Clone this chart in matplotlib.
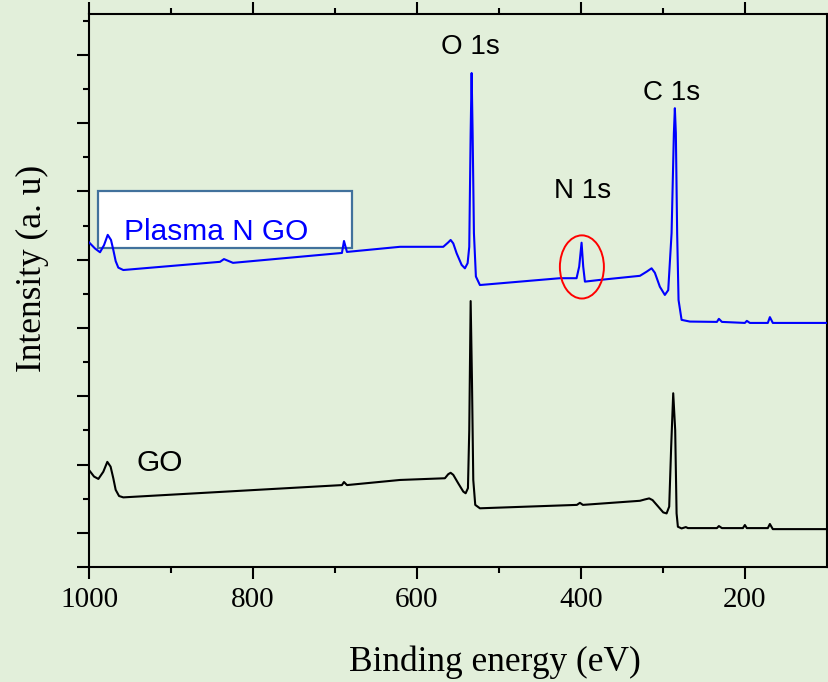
import numpy as np
import matplotlib
matplotlib.use("Agg")
import matplotlib.pyplot as plt
from matplotlib.patches import Rectangle, Ellipse
from matplotlib.ticker import FixedLocator

# Binding energy (eV) / intensity (a. u.)
be_ngo = [1000, 992.7, 986.6, 981.7, 977.2, 973.2, 970.4, 967.5, 964.3, 958.2,
          840.2, 835.4, 824.4, 691.5, 689.0, 685.4, 620.7,
          567.9, 561.8, 558.9, 555.7, 551.6, 545.5, 541.5, 538.2, 536.2, 534.5,
          533.3, 532.1, 530.5, 528.1, 523.2,
          425.6, 405.3, 402.1, 399.2, 397.2, 395.1, 376.8,
          328.0, 319.9, 313.8, 309.8, 303.7, 297.6, 293.5, 289.4, 286.6, 285.4,
          284.2, 282.6, 280.9, 277.2, 267.1,
          234.1, 231.7, 228.0, 200.0, 197.6, 193.9, 172.0, 169.5, 165.9, 99.0]
i_ngo = [9.51, 9.33, 9.22, 9.43, 9.73, 9.58, 9.29, 8.96, 8.77, 8.70,
         8.94, 9.02, 8.91, 9.20, 9.55, 9.23, 9.38,
         9.38, 9.51, 9.58, 9.48, 9.19, 8.85, 8.75, 8.90, 9.38, 12.71,
         14.47, 12.71, 9.78, 8.51, 8.26,
         8.46, 8.46, 8.80, 9.50, 8.80, 8.36, 8.41,
         8.53, 8.65, 8.75, 8.62, 8.21, 7.97, 8.11, 9.78, 12.71, 13.44,
         12.71, 9.78, 7.82, 7.24, 7.19,
         7.18, 7.27, 7.18, 7.15, 7.21, 7.15, 7.15, 7.32, 7.15, 7.15]

be_go = [1000, 993.9, 988.6, 982.6, 977.7, 973.7, 970.4, 967.5, 963.4, 958.2,
         691.5, 689.0, 685.4, 620.7,
         565.9, 561.8, 558.9, 555.7, 549.6, 543.5, 540.6, 537.8, 536.2, 534.5,
         532.9, 531.3, 528.9, 523.2,
         404.9, 401.2, 397.6,
         328.0, 321.9, 316.7, 312.6, 305.7, 299.6, 295.5, 292.3, 289.9, 287.4,
         285.0, 283.3, 281.7, 277.2, 272.0, 269.5,
         234.1, 231.7, 228.0, 202.4, 200.0, 197.6, 172.0, 169.5, 165.9, 99.0]
i_go = [2.84, 2.65, 2.58, 2.79, 3.08, 2.94, 2.60, 2.26, 2.08, 2.04,
        2.40, 2.49, 2.40, 2.55,
        2.60, 2.72, 2.76, 2.70, 2.45, 2.21, 2.16, 2.31, 4.01, 7.79,
        5.48, 2.55, 1.82, 1.72,
        1.82, 1.88, 1.82,
        1.94, 1.98, 2.01, 1.96, 1.77, 1.60, 1.57, 1.77, 3.52, 5.09,
        4.01, 1.57, 1.18, 1.13, 1.17, 1.14,
        1.14, 1.20, 1.14, 1.14, 1.23, 1.14, 1.14, 1.26, 1.11, 1.11]

peak_names = ["O 1s", "N 1s", "C 1s"]
peak_be = [535.4, 397.6, 289.4]
peak_lbl_y = [15.24, 11.02, 13.89]

BG = "#e2efda"
plt.rcParams["font.family"] = ["Liberation Serif", "DejaVu Serif"]

fig = plt.figure(figsize=(8.29, 6.82), dpi=100, facecolor=BG)
ax = fig.add_axes([0.1074, 0.1686, 0.8906, 0.8109], facecolor=BG)

# label box behind the blue trace
ax.add_patch(Rectangle((989.0, 9.35), 679.3 - 989.0, 11.02 - 9.35, facecolor="white",
                       edgecolor="#41719c", lw=1.6, zorder=1))
ax.plot(be_ngo, i_ngo, color="#0000ff", lw=1.5, zorder=3)
ax.plot(be_go, i_go, color="black", lw=1.5, zorder=3)

ax.add_patch(Ellipse((398.8, 8.79), 53.7, 1.85, facecolor="none", edgecolor="#ff0000",
                     lw=1.4, zorder=4))

sans = ["Liberation Sans", "DejaVu Sans"]
for name, x, y in zip(peak_names, peak_be, peak_lbl_y):
    ax.text(x, y, name, family=sans, fontsize=20, ha="center", va="center")
ax.text(845.4, 9.82, "Plasma N GO", family=sans, fontsize=21.5, color="#0000ff",
        ha="center", va="center", zorder=2)
ax.text(913.4, 3.05, "GO", family=sans, fontsize=21.5, ha="center", va="center")

ax.set_xlim(1000, 99.4)
ax.set_ylim(0, 16.2)
ax.xaxis.set_major_locator(FixedLocator([1000, 800, 600, 400, 200]))
ax.xaxis.set_minor_locator(FixedLocator([900, 700, 500, 300]))
ax.yaxis.set_major_locator(FixedLocator([0, 1, 3, 5, 7, 9, 11, 13, 15]))
ax.yaxis.set_minor_locator(FixedLocator([2, 4, 6, 8, 10, 12, 14, 16]))
ax.set_yticklabels([])
ax.tick_params(which="both", direction="out", width=1.5, top=True, right=True,
               labelsize=21, pad=6)
ax.tick_params(which="major", length=8.5)
ax.tick_params(which="minor", length=4.5)
for s in ax.spines.values():
    s.set_linewidth(1.5)

ax.set_xlabel("Binding energy (eV)", fontsize=25.5)
ax.set_ylabel("Intensity (a. u)", fontsize=25.5)
ax.xaxis.label.set_va("center")
ax.yaxis.label.set_va("center")
ax.xaxis.set_label_coords(0.55, -0.172)
ax.yaxis.set_label_coords(-0.077, 0.54)

fig.savefig("out.png", dpi=100, facecolor=BG)
